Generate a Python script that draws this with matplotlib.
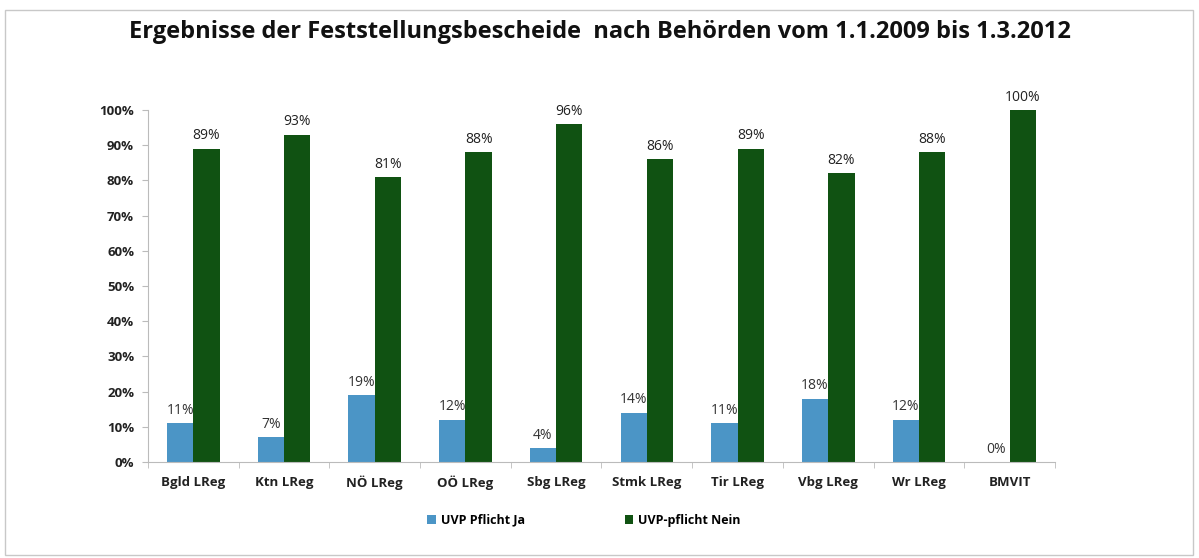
import matplotlib
matplotlib.use("Agg")
import matplotlib.pyplot as plt
import numpy as np
from matplotlib.patches import Rectangle
from matplotlib.ticker import FuncFormatter, FixedLocator

categories = ["Bgld LReg", "Ktn LReg", "NÖ LReg", "OÖ LReg", "Sbg LReg",
              "Stmk LReg", "Tir LReg", "Vbg LReg", "Wr LReg", "BMVIT"]
ja = [11, 7, 19, 12, 4, 14, 11, 18, 12, 0]
nein = [89, 93, 81, 88, 96, 86, 89, 82, 88, 100]
series_names = ["UVP Pflicht Ja", "UVP-pflicht Nein"]
title = "Ergebnisse der Feststellungsbescheide  nach Behörden vom 1.1.2009 bis 1.3.2012"

plt.rcParams['font.family'] = ['Open Sans', 'DejaVu Sans']

fig = plt.figure(figsize=(11.99, 5.58), dpi=100)
fig.patches.append(Rectangle((0.004, 0.005), 0.991, 0.977, transform=fig.transFigure,
                             fill=False, edgecolor='#c8c8c8', linewidth=1.0))
ax = fig.add_axes([0.1234, 0.172, 0.7565, 0.631])

x = np.arange(len(categories))
w = 0.29
c_ja = '#4b95c6'
c_nein = '#105212'
b1 = ax.bar(x - w / 2, ja, w, color=c_ja, label=series_names[0])
b2 = ax.bar(x + w / 2, nein, w, color=c_nein, label=series_names[1])

for xi, v in zip(x, ja):
    ax.text(xi - w / 2, v + 1.5, f"{v}%", ha='center', va='bottom', fontsize=10, color='#333333')
for xi, v in zip(x, nein):
    ax.text(xi + w / 2, v + 1.5, f"{v}%", ha='center', va='bottom', fontsize=10, color='#222222')

ax.set_xlim(-0.5, len(categories) - 0.5)
ax.set_ylim(0, 100)
ax.yaxis.set_major_locator(FixedLocator(np.arange(0, 101, 10)))
ax.yaxis.set_major_formatter(FuncFormatter(lambda v, p: f"{int(v)}%"))
ax.set_xticks(x)
ax.set_xticklabels(categories)
ax.set_xticks(np.arange(-0.5, len(categories), 1), minor=True)
ax.tick_params(axis='x', which='major', length=0, pad=10)
ax.tick_params(axis='x', which='minor', length=4, color='#bbbbbb')
ax.tick_params(axis='y', length=4, color='#bbbbbb', pad=6)
for lab in ax.get_xticklabels() + ax.get_yticklabels():
    lab.set_fontweight('bold')
    lab.set_fontsize(9.5)
    lab.set_color('#222222')

for s in ['top', 'right']:
    ax.spines[s].set_visible(False)
for s in ['left', 'bottom']:
    ax.spines[s].set_color('#bbbbbb')

fig.text(0.5, 0.942, title, ha='center', va='center', fontsize=17, fontweight='bold', color='#111111')

fig.legend(handles=[b1, b2], labels=series_names, loc='center', bbox_to_anchor=(0.487, 0.068),
           ncol=2, frameon=False, handlelength=0.7, handleheight=0.7,
           columnspacing=8, handletextpad=0.4, prop={'weight': 'bold', 'size': 9})

fig.savefig("out.png", dpi=100)
